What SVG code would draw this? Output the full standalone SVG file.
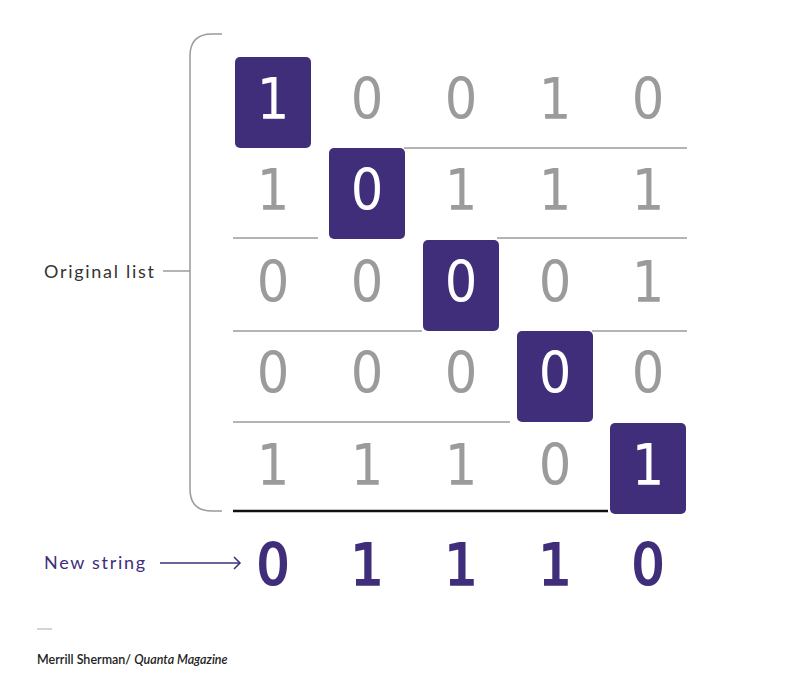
<svg xmlns="http://www.w3.org/2000/svg" width="808" height="683" viewBox="0 0 808 683">
<style>
.box{fill:#402e7b}
.g{font-family:"DejaVu Sans",sans-serif;font-stretch:condensed;font-size:57px;fill:#9b9b9b;text-anchor:middle}
.w{font-family:"DejaVu Sans",sans-serif;font-stretch:condensed;font-size:57px;fill:#ffffff;text-anchor:middle}
.n{font-family:"DejaVu Sans",sans-serif;font-stretch:condensed;font-size:57px;fill:#402e7b;stroke:#402e7b;stroke-width:2.2px;text-anchor:middle}
.sep{stroke:#9b9b9b;stroke-width:1.5;fill:none}
.lbl{font-family:"Lato","Liberation Sans",sans-serif;font-size:18px;letter-spacing:1.7px}
</style>
<rect width="808" height="683" fill="#ffffff"/>
<g id="connectors">
<path class="sep" d="M222,34 H212 Q190,34 190,56 V489 Q190,511 212,511 H222"/>
<line class="sep" x1="163" y1="271" x2="190" y2="271"/>
<line class="sep" x1="404" y1="148" x2="687" y2="148"/>
<line class="sep" x1="233" y1="238" x2="318" y2="238"/>
<line class="sep" x1="497" y1="238" x2="687" y2="238"/>
<line class="sep" x1="233" y1="331" x2="422" y2="331"/>
<line class="sep" x1="592" y1="331" x2="687" y2="331"/>
<line class="sep" x1="233" y1="422" x2="510" y2="422"/>
<line x1="233" y1="511" x2="608" y2="511" stroke="#111111" stroke-width="2.5"/>
<line x1="160" y1="563" x2="240" y2="563" stroke="#402e7b" stroke-width="1.5"/>
<path d="M234,557 L240,563 L234,569" fill="none" stroke="#402e7b" stroke-width="1.5"/>
</g>
<g id="diag-boxes">
<rect class="box" x="235" y="57" width="76" height="91" rx="5"/>
<rect class="box" x="329" y="148" width="76" height="91" rx="5"/>
<rect class="box" x="423" y="240" width="76" height="91" rx="5"/>
<rect class="box" x="517" y="331" width="76" height="91" rx="5"/>
<rect class="box" x="610" y="423" width="76" height="91" rx="5"/>
</g>
<g id="row1">
<text class="w" x="273" y="119">1</text>
<text class="g" x="367" y="119">0</text>
<text class="g" x="461" y="119">0</text>
<text class="g" x="555" y="119">1</text>
<text class="g" x="648" y="119">0</text>
</g>
<g id="row2">
<text class="g" x="273" y="210">1</text>
<text class="w" x="367" y="210">0</text>
<text class="g" x="461" y="210">1</text>
<text class="g" x="555" y="210">1</text>
<text class="g" x="648" y="210">1</text>
</g>
<g id="row3">
<text class="g" x="273" y="302">0</text>
<text class="g" x="367" y="302">0</text>
<text class="w" x="461" y="302">0</text>
<text class="g" x="555" y="302">0</text>
<text class="g" x="648" y="302">1</text>
</g>
<g id="row4">
<text class="g" x="273" y="393">0</text>
<text class="g" x="367" y="393">0</text>
<text class="g" x="461" y="393">0</text>
<text class="w" x="555" y="393">0</text>
<text class="g" x="648" y="393">0</text>
</g>
<g id="row5">
<text class="g" x="273" y="485">1</text>
<text class="g" x="367" y="485">1</text>
<text class="g" x="461" y="485">1</text>
<text class="g" x="555" y="485">0</text>
<text class="w" x="648" y="485">1</text>
</g>
<g id="new-string">
<text class="n" x="273" y="585">0</text>
<text class="n" x="367" y="585">1</text>
<text class="n" x="461" y="585">1</text>
<text class="n" x="555" y="585">1</text>
<text class="n" x="648" y="585">0</text>
</g>
<g id="label-original">
<text class="lbl" x="44" y="278" fill="#333333">Original list</text>
</g>
<g id="label-new">
<text class="lbl" x="44" y="569" fill="#402e7b">New string</text>
</g>
<g id="credit">
<line x1="37" y1="629" x2="52" y2="629" stroke="#aaaaaa" stroke-width="1"/>
<text x="37" y="664" font-family="Lato,'Liberation Sans',sans-serif" font-size="12.5" font-weight="600" fill="#222222">Merrill Sherman/ <tspan font-style="italic">Quanta Magazine</tspan></text>
</g>
</svg>
